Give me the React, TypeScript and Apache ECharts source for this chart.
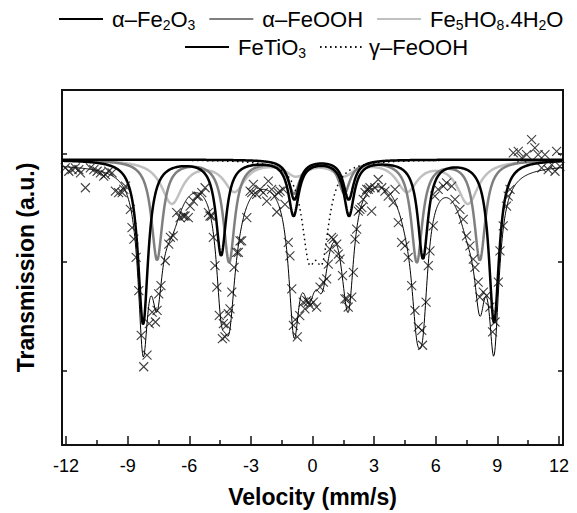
import React, { useEffect, useRef } from "react";
import * as echarts from "echarts";

// ---- Measured data points (velocity mm/s, transmission a.u.) ----
const dataVelocity = [
  -12.04, -11.87, -11.71, -11.55, -11.38, -11.3, -11.06, -10.82, -10.65, -10.49, -10.33, -10.17, -10.09, -9.92,
  -9.76, -9.6, -9.44, -9.27, -9.19, -9.11, -8.87, -8.79, -8.7, -8.59, -8.46, -8.34, -8.22, -8.06, -7.95, -7.81,
  -7.65, -7.57, -7.49, -7.38, -7.17, -7.0, -6.92, -6.78, -6.61, -6.45, -6.29, -6.21, -6.05, -5.96, -5.8, -5.64,
  -5.56, -5.39, -5.23, -5.07, -4.99, -4.91, -4.83, -4.75, -4.66, -4.54, -4.39, -4.34, -4.26, -4.18, -4.1, -4.02,
  -3.93, -3.82, -3.69, -3.61, -3.53, -3.45, -3.2, -3.04, -2.96, -2.88, -2.72, -2.56, -2.4, -2.23, -2.15, -1.99,
  -1.83, -1.74, -1.67, -1.58, -1.42, -1.34, -1.18, -1.1, -1.01, -0.93, -0.84, -0.74, -0.62, -0.45, -0.37, -0.28,
  -0.2, -0.12, 0.04, 0.2, 0.37, 0.53, 0.69, 0.77, 0.85, 0.93, 1.01, 1.18, 1.26, 1.34, 1.46, 1.58, 1.67, 1.74,
  1.91, 1.99, 2.07, 2.15, 2.23, 2.31, 2.4, 2.47, 2.56, 2.64, 2.72, 2.8, 2.88, 3.04, 3.2, 3.37, 3.53, 3.69, 3.93,
  4.02, 4.18, 4.34, 4.5, 4.66, 4.83, 4.99, 5.15, 5.32, 5.36, 5.53, 5.64, 5.72, 5.88, 5.96, 6.12, 6.37, 6.53,
  6.78, 6.94, 7.18, 7.34, 7.5, 7.67, 7.83, 7.91, 8.07, 8.15, 8.32, 8.48, 8.64, 8.77, 8.89, 9.05, 9.13, 9.29,
  9.45, 9.53, 9.62, 9.78, 10.02, 10.19, 10.43, 10.67, 10.83, 10.99, 11.16, 11.32, 11.48, 11.65, 11.81, 11.89,
  12.05,
];
const dataTransmission = [
  278.7, 275.3, 277, 278.7, 277, 273.7, 258.7, 278.7, 277, 275.3, 273.7, 270.3, 272, 275.3,
  273.7, 255.3, 253.7, 253.7, 257, 260.3, 237, 218.7, 207, 188.7, 155.3, 110.3, 78.7, 90.3, 122, 133.7,
  123.7, 135.3, 152, 160.3, 185.3, 202, 208.7, 210.3, 233.7, 228.7, 230.3, 230.3, 228.7, 240.3, 245.3, 250.3,
  250.3, 253.7, 258.7, 233.7, 230.3, 230.3, 208.7, 180.3, 158.7, 130.3, 107, 122, 108.7, 120.3, 132, 137,
  153.7, 178.7, 193.7, 193.7, 205.3, 205.3, 228.7, 255.3, 253.7, 262, 252, 257, 253.7, 245.3, 265.3, 257,
  250.3, 234.3, 253.7, 255.3, 257, 242, 203.7, 190.3, 157, 120.3, 126, 108.7, 130, 143.7, 137, 145.3,
  143.7, 140.3, 143.7, 138.7, 158.7, 163.7, 167, 182, 197, 208.7, 207, 202, 192, 187, 170.3, 147, 147, 138.7,
  148.7, 173.7, 207, 217, 235.3, 237, 238.7, 247, 253.7, 257, 257, 258.7, 235.3, 258.7, 267, 258.7, 255.3, 250.3, 243.7,
  257, 223.7, 203.7, 200.3, 188.7, 160.3, 135.3, 118.7, 115.3, 100.3, 143.7, 180.3, 195.3, 220.3, 250.3, 257, 260.3, 263.7,
  260.3, 247, 237, 227, 210.3, 200.3, 187, 178.7, 163.7, 148.7, 153.7, 150.3, 138.7, 113.7, 123.7, 163.7, 195.3, 220.3,
  240.3, 250.3, 257, 293.7, 295.3, 288.7, 292, 307, 298.7, 292, 278.7, 292, 277, 282, 275.3, 295.3,
  280.3,
];

// ---- Fitted sub-spectra (line positions mm/s, depths a.u., half widths mm/s) ----
const hematiteCenters = [-8.25, -4.45, -0.92, 1.78, 5.38, 8.84];
const hematiteDepths = [165, 95, 55, 55, 98, 163];
const hematiteHalfWidth = 0.3;

const goethiteCenters = [-7.57, -4.06, -0.9, 1.55, 5.08, 8.15];
const goethiteDepths = [100, 102, 32, 32, 102, 100];
const goethiteHalfWidth = 0.33;

const ferrihydriteCenters = [-6.85, -3.8, -0.8, 1.5, 4.6, 7.57];
const ferrihydriteDepths = [43, 30, 14, 14, 30, 43];
const ferrihydriteHalfWidth = 0.62;

const ilmeniteCenters = [-0.88, 1.76];
const ilmeniteDepths = [40, 40];
const ilmeniteHalfWidth = 0.3;

const lepidocrociteCenters = [-0.175, 0.475];
const lepidocrociteDepths = [81, 81];
const lepidocrociteHalfWidth = 0.42;

const componentBase = 287;
const fitBase = 283;

const xTicks = [-12, -9, -6, -3, 0, 3, 6, 9, 12];
const xMinorTicks = [-10.5, -7.5, -4.5, -1.5, 1.5, 4.5, 7.5, 10.5];
const yTicks = [75, 184, 293];

const FONT = "'Liberation Sans', Arial, Helvetica, sans-serif";

function dip(v: number, centers: number[], depths: number[], hw: number) {
  let s = 0;
  for (let i = 0; i < centers.length; i++) {
    const d = (v - centers[i]) / hw;
    s += depths[i] / (1 + d * d);
  }
  return s;
}

const grid: number[] = [];
for (let i = 0; i <= 1220; i++) grid.push(Math.round((-12.2 + i * 0.02) * 1000) / 1000);

const comps = {
  hem: (v: number) => dip(v, hematiteCenters, hematiteDepths, hematiteHalfWidth),
  goe: (v: number) => dip(v, goethiteCenters, goethiteDepths, goethiteHalfWidth),
  fer: (v: number) => dip(v, ferrihydriteCenters, ferrihydriteDepths, ferrihydriteHalfWidth),
  ilm: (v: number) => dip(v, ilmeniteCenters, ilmeniteDepths, ilmeniteHalfWidth),
  lep: (v: number) => dip(v, lepidocrociteCenters, lepidocrociteDepths, lepidocrociteHalfWidth),
};

const compData = (f: (v: number) => number) => grid.map((v) => [v, componentBase - f(v)]);
const fitData = grid.map((v) => [
  v,
  fitBase - (comps.hem(v) + comps.goe(v) + comps.fer(v) + comps.ilm(v) + comps.lep(v)),
]);

const names = {
  hem: "α–Fe2O3",
  goe: "α–FeOOH",
  fer: "Fe5HO8.4H2O",
  ilm: "FeTiO3",
  lep: "γ–FeOOH",
};
const legendRich: Record<string, string> = {
  [names.hem]: "{g|}{t|α–Fe}{s|2}{t|O}{s|3}",
  [names.goe]: "{g|}{t|α–FeOOH}",
  [names.fer]: "{g|}{t|Fe}{s|5}{t|HO}{s|8}{t|.4H}{s|2}{t|O}",
  [names.ilm]: "{g|}{t|FeTiO}{s|3}",
  [names.lep]: "{t|γ–FeOOH}",
};

export default function App() {
  const ref = useRef<HTMLDivElement>(null);
  useEffect(() => {
    if (!ref.current) return;
    const chart = echarts.init(ref.current, null, { renderer: "svg" });
    const rich = {
      g: { width: 4, fontSize: 22 },
      t: { fontSize: 22, fontFamily: FONT, color: "#000" },
      s: { fontSize: 14, fontFamily: FONT, color: "#000", padding: [11, 0, 0, 0] },
    };
    const legendBase = {
      itemWidth: 44,
      itemHeight: 12,
      itemGap: 13,
      padding: 0,
      formatter: (n: string) => legendRich[n] || n,
      textStyle: { fontSize: 22, fontFamily: FONT, color: "#000", rich },
      itemStyle: { opacity: 0 },
      selectedMode: false,
    };
    const line = (name: string, data: number[][], color: string, width: number, type: any = "solid", z = 2) => ({
      name,
      type: "line",
      data,
      showSymbol: false,
      symbol: "none",
      lineStyle: { color, width, type },
      itemStyle: { color },
      z,
      silent: true,
    });
    const yAxisBase = {
      type: "value",
      min: 0,
      max: 357,
      axisLine: { show: false, onZero: false },
      splitLine: { show: false },
      axisTick: { show: true, inside: true, length: 5, customValues: yTicks, lineStyle: { color: "#111", width: 1.5 } },
      axisLabel: { show: false },
    };
    chart.setOption({
      animation: false,
      backgroundColor: "#fff",
      legend: [
        { ...legendBase, data: [names.hem, names.goe, names.fer], top: 8, left: 58 },
        { ...legendBase, data: [names.ilm, names.lep], top: 36, left: 184 },
      ],
      grid: {
        left: 62,
        right: 14,
        top: 90,
        bottom: 66,
        show: true,
        borderColor: "#111",
        borderWidth: 2,
        backgroundColor: "transparent",
      },
      xAxis: [
        {
          type: "value",
          min: -12.2,
          max: 12.2,
          position: "bottom",
          axisLine: { show: false, onZero: false },
          splitLine: { show: false },
          axisTick: { show: true, inside: true, length: 9, customValues: xTicks, lineStyle: { color: "#111", width: 1.5 } },
          axisLabel: { show: true, customValues: xTicks, fontSize: 18, fontFamily: FONT, color: "#000", margin: 12 },
          name: "Velocity (mm/s)",
          nameLocation: "middle",
          nameGap: 40,
          nameTextStyle: { fontSize: 23, fontWeight: "bold", fontFamily: FONT, color: "#000" },
        },
        {
          type: "value",
          min: -12.2,
          max: 12.2,
          position: "bottom",
          axisLine: { show: false, onZero: false },
          splitLine: { show: false },
          axisTick: { show: true, inside: true, length: 5, customValues: xMinorTicks, lineStyle: { color: "#111", width: 1.5 } },
          axisLabel: { show: false },
        },
      ],
      yAxis: [
        {
          ...yAxisBase,
          position: "left",
          name: "Transmission (a.u.)",
          nameLocation: "middle",
          nameGap: 25,
          nameTextStyle: { fontSize: 23, fontWeight: "bold", fontFamily: FONT, color: "#000" },
        },
        { ...yAxisBase, position: "right" },
      ],
      series: [
        line(names.fer, compData(comps.fer), "#c0c0c0", 2.5, "solid", 2),
        line(names.goe, compData(comps.goe), "#7f7f7f", 2.5, "solid", 3),
        line(names.lep, compData(comps.lep), "#000", 1.5, [1.5, 3.5], 4),
        line(names.ilm, compData(comps.ilm), "#000", 2.5, "solid", 5),
        line(names.hem, compData(comps.hem), "#000", 2.5, "solid", 6),
        {
          name: "fit",
          type: "line",
          data: fitData,
          showSymbol: false,
          symbol: "none",
          lineStyle: { color: "#000", width: 1 },
          z: 7,
          silent: true,
        },
        {
          name: "data",
          type: "scatter",
          data: dataVelocity.map((v, i) => [v, dataTransmission[i]]),
          symbol: "path://M0,0L10,10M10,0L0,10",
          symbolSize: 9,
          itemStyle: { color: "rgba(0,0,0,0)", borderColor: "#111", borderWidth: 1.1 },
          z: 8,
          silent: true,
        },
      ],
    });
    return () => chart.dispose();
  }, []);
  return <div ref={ref} style={{ position: "fixed", left: 0, top: 0, width: 577, height: 513 }} />;
}
